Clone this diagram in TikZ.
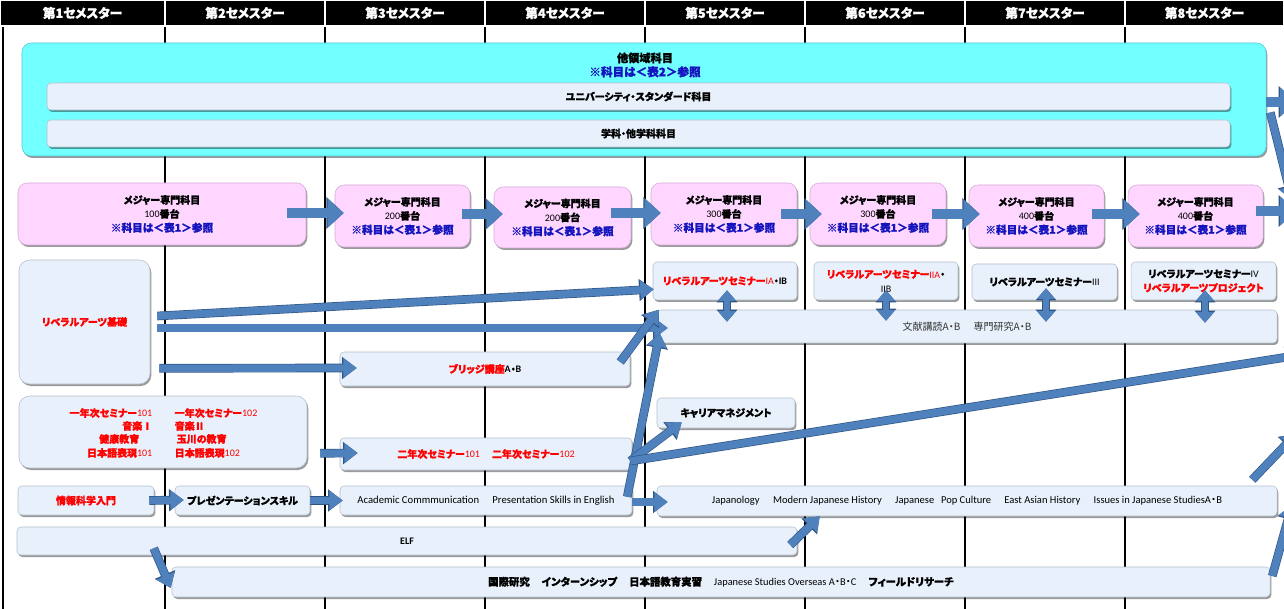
\documentclass[tikz,border=0pt]{standalone}
\usepackage{fontspec}
\setmainfont{Noto Sans CJK JP}[RawFeature=+palt, BoldFeatures={FakeBold=1.2}]
\newfontfamily\lat{Carlito}
\usetikzlibrary{arrows.meta,shadows,calc}
\definecolor{cyfill}{RGB}{114,255,255}
\definecolor{cyedge}{RGB}{80,200,220}
\definecolor{pkfill}{RGB}{255,214,255}
\definecolor{pkedge}{RGB}{210,170,210}
\definecolor{lbfill}{RGB}{232,241,251}
\definecolor{lbedge}{RGB}{180,190,205}
\definecolor{navy}{RGB}{20,20,190}
\definecolor{arrfill}{RGB}{79,129,189}
\definecolor{arredge}{RGB}{50,86,132}
\definecolor{jred}{RGB}{255,0,0}
\newcommand\fs[2]{\fontsize{#1}{#2}\selectfont}
\newcommand\jdot{{\rmfamily ・}}
% box node from corner (x1,y1) to (x2,y2) in pixel units
\newcommand\rb[7]{\node[#1, minimum width={(#5-#3)*0.75pt}, minimum height={(#6-#4)*0.75pt}] (#2) at ({(#3+#5)/2},{(#4+#6)/2}) {#7};}
\begin{document}
\begin{tikzpicture}[x=0.75pt,y=-0.75pt,
  shd/.style={drop shadow={shadow xshift=1pt,shadow yshift=-1.5pt,fill=black,opacity=0.4}},
  box/.style={inner sep=0pt, align=center, shd},
  lb/.style={box, draw=lbedge, fill=lbfill, rounded corners=3pt},
  pk/.style={box, draw=pkedge, fill=pkfill, rounded corners=7pt},
  cy/.style={box, draw=cyedge, fill=cyfill, rounded corners=7pt},
  hd/.style={fill=black, draw=white, line width=0.9pt, inner sep=0pt, text=white, font={\fs{9.5}{10}\bfseries}},
  jb/.style={font={\fs{7.5}{10.5}\bfseries}},
  jr/.style={font={\fs{7.5}{10.5}}},
  lt/.style={font={\lat\fs{7.9}{9}}},
  barr/.style={line width=7pt, draw=arrfill, -{Triangle[length=12pt,width=21pt]},
     preaction={draw=arredge, line width=8pt, -{Triangle[length=13pt,width=23pt]}}},
  larr/.style={line width=5.5pt, draw=arrfill, -{Triangle[length=10pt,width=14pt]},
     preaction={draw=arredge, line width=6.5pt, -{Triangle[length=11pt,width=16pt]}}},
  darr/.style={line width=5pt, draw=arrfill, {Triangle[length=8pt,width=13pt]}-{Triangle[length=8pt,width=13pt]},
     preaction={draw=arredge, line width=6pt, {Triangle[length=9pt,width=15pt]}-{Triangle[length=9pt,width=15pt]}}},
  grid/.style={line width=0.8pt, draw=black},
]
\useasboundingbox (0,0) rectangle (1284,609);
\fill[white] (0,0) rectangle (1284,609);
% grid lines
\foreach \x in {165,325,485,645,805,965,1125} \draw[grid] (\x,26) -- (\x,609);
\draw[grid] (3,26) -- (3,609);
% header
\foreach \a/\b/\n in {0/165/1,165/325/2,325/485/3,485/645/4,645/805/5,805/965/6,965/1125/7,1125/1284/8}
  {\rb{hd}{h\n}{\a}{0}{\b}{26}{第\n セメスター}}

% other fields
\rb{cy}{cyan}{22}{43}{1266}{156}{}
\node[font={\fs{8.4}{10.5}\bfseries}, align=center] (cyt) at (645,65) {他領域科目\\\textcolor{navy}{\fs{8.7}{10.5}※科目は＜表2＞参照}};
\rb{lb,jb}{us}{47}{83}{1230}{110}{ユニバーシティ・スタンダード科目}
\rb{lb,jb}{gk}{47}{120}{1230}{147}{学科・他学科科目}

% major
\newcommand\mj[1]{メジャー専門科目\\{\lat\mdseries #1}番台\\\textcolor{navy}{\fs{8}{10.5}※科目は＜表1＞参照}}
\rb{pk,jb}{m1}{18}{183}{306}{245}{\mj{100}}
\rb{pk,jb}{m2}{335}{185}{470}{247}{\mj{200}}
\rb{pk,jb}{m3}{494}{187}{631}{248}{\mj{200}}
\rb{pk,jb}{m4}{651}{183}{797}{245}{\mj{300}}
\rb{pk,jb}{m5}{810}{183}{946}{245}{\mj{300}}
\rb{pk,jb}{m6}{969}{185}{1104}{247}{\mj{400}}
\rb{pk,jb}{m7}{1128}{185}{1263}{247}{\mj{400}}

% liberal arts
\rb{lb,jb,rounded corners=8pt,text=jred}{laf}{19}{260}{150}{384}{リベラルアーツ基礎}
\rb{lb,jb}{s1}{653}{262}{797}{300}{\textcolor{jred}{リベラルアーツセミナー{\lat\mdseries IA}}・{\lat IB}}
\rb{lb,jb}{s2}{814}{262}{958}{300}{\textcolor{jred}{リベラルアーツセミナー{\lat\mdseries IIA}}・\\{\lat\mdseries IIB}}
\rb{lb,jb}{s3}{972}{264}{1117}{300}{リベラルアーツセミナー{\lat\mdseries III}}
\rb{lb,jb}{s4}{1131}{262}{1276}{300}{リベラルアーツセミナー{\lat\mdseries IV}\\\textcolor{jred}{リベラルアーツプロジェクト}}
\rb{lb,jr,text=black!80}{big}{657}{310}{1277}{343}{文献講読A・B\hspace{10pt}専門研究A・B}
\rb{lb,jb}{bridge}{340}{352}{630}{386}{\textcolor{jred}{ブリッジ講座}{\lat A}・{\lat B}}

% first-year seminars
\rb{lb,rounded corners=8pt}{fy}{19}{396}{307}{468}{}
\node[jb, text=jred, anchor=east] (fy1a) at (157,413) {一年次セミナー{\lat\mdseries 101}};
\node[jb, text=jred, anchor=west] (fy1b) at (170,413) {一年次セミナー{\lat\mdseries 102}};
\node[jb, text=jred, anchor=east] (fy2a) at (157,426) {音楽Ⅰ};
\node[jb, text=jred, anchor=west] (fy2b) at (170,426) {音楽Ⅱ};
\node[jb, text=jred, anchor=east] (fy3a) at (144,439) {健康教育};
\node[jb, text=jred, anchor=west] (fy3b) at (172,439) {玉川の教育};
\node[jb, text=jred, anchor=east] (fy4a) at (157,453) {日本語表現{\lat\mdseries 101}};
\node[jb, text=jred, anchor=west] (fy4b) at (170,453) {日本語表現{\lat\mdseries 102}};

\rb{lb,jb,text=jred}{sy}{340}{438}{632}{470}{二年次セミナー{\lat\mdseries 101}\hspace{9pt}二年次セミナー{\lat\mdseries 102}}
\rb{lb,jb}{career}{657}{398}{795}{428}{キャリアマネジメント}

% skills row
\rb{lb,jb,text=jred}{info}{18}{486}{154}{515}{情報科学入門}
\rb{lb,jb}{pres}{175}{486}{310}{515}{プレゼンテーションスキル}
\rb{lb,lt,font={\lat\fs{8}{9}}}{acad}{340}{486}{632}{515}{Academic Commmunication\hspace{10pt}Presentation Skills in English}
\rb{lb,lt}{jap}{657}{486}{1277}{516}{Japanology\hspace{10pt}Modern Japanese History\hspace{10pt}Japanese\hspace{5pt}Pop Culture\hspace{10pt}East Asian History\hspace{10pt}Issues in Japanese StudiesA\jdot B}
\rb{lb,font={\lat\fs{7.5}{9}\bfseries}}{elf}{17}{527}{797}{555}{ELF}
\rb{lb,font={\fs{7.8}{10}\bfseries}}{bot}{172}{567}{1270}{597}{国際研究\hspace{9pt}インターンシップ\hspace{9pt}日本語教育実習\hspace{9pt}{\lat\mdseries Japanese Studies Overseas A\jdot B\jdot C}\hspace{9pt}フィールドリサーチ}

% free ends
\coordinate (offA) at (1296,102);
\coordinate (offB) at (1292,200);
\coordinate (offC) at (1296,211);
\coordinate (offD) at (1300,355);
\coordinate (offE) at (1296,434);
\coordinate (offF) at (1292,505);

% major arrows
\draw[barr] ($(m1.east)+(-19,-1)$) -- ($(m2.west)+(9,-3)$);
\draw[barr] ($(m2.east)+(-8,-2)$) -- ($(m3.west)+(9,-3.5)$);
\draw[barr] ($(m3.east)+(-20,-4.5)$) -- ($(m4.west)+(10,-1)$);
\draw[barr] ($(m4.east)+(-16,0)$) -- ($(m5.west)+(12,0)$);
\draw[barr] ($(m5.east)+(-14,0)$) -- ($(m6.west)+(11,-2)$);
\draw[barr] ($(m6.east)+(-12,-2)$) -- ($(m7.west)+(12,-2)$);
\draw[barr] ($(m7.east)+(-7,-5)$) -- (offC);
\draw[barr] ($(cyan.east)+(0,2.5)$) -- (offA);
\draw[larr] ($(cyan.east)+(4,13)$) -- (offB);

% liberal arts arrows
\draw[larr] ($(laf.east)+(7,-6)$) -- ($(s1.south west)+(1,-11)$);
\draw[larr] ($(laf.east)+(7,6)$) -- ($(big.west)+(11,1.5)$);
\draw[larr] ($(laf.south east)+(9,-16)$) -- ($(bridge.west)+(17,-1)$);
\draw[larr] ($(bridge.east)+(-10,-7)$) -- ($(big.north west)+(2,0)$);
\draw[larr] ($(acad.north east)+(-5,11)$) -- ($(big.south west)+(3,-10)$);
\draw[larr] ($(sy.east)+(-2,7)$) -- ($(career.south west)+(25,-6)$);
\draw[larr] ($(sy.east)+(-2,7)$) -- (offD);
\draw[larr] ($(fy.south east)+(13,-15)$) -- ($(sy.west)+(18,-1)$);
\draw[larr] ($(info.east)+(-5,0)$) -- ($(pres.west)+(9,-0.5)$);
\draw[larr] (pres.east) -- ($(acad.west)+(3,0)$);
\draw[larr] ($(acad.east)+(0,1.5)$) -- ($(jap.west)+(11,1)$);
\draw[larr] ($(elf.east)+(-7,4)$) -- ($(jap.south west)+(163,0)$);
\draw[larr] ($(elf.south west)+(137,-7)$) -- ($(bot.west)+(-1,6)$);
\draw[larr] ($(bot.east)+(2,-6)$) -- (offF);
\draw[larr] ($(jap.north east)+(-25,-6)$) -- (offE);

% seminar double arrows
\draw[darr] ($(s1.south)+(2,-10)$) -- ($(big.north -| s1.south)+(2,12)$);
\draw[darr] ($(s2.south)+(0,-10)$) -- ($(big.north -| s2.south)+(0,11)$);
\draw[darr] ($(s3.south)+(1.5,-12)$) -- ($(big.north -| s3.south)+(1.5,12)$);
\draw[darr] ($(s4.south)+(1.5,-10)$) -- ($(big.north -| s4.south)+(1.5,13)$);
\end{tikzpicture}
\end{document}
